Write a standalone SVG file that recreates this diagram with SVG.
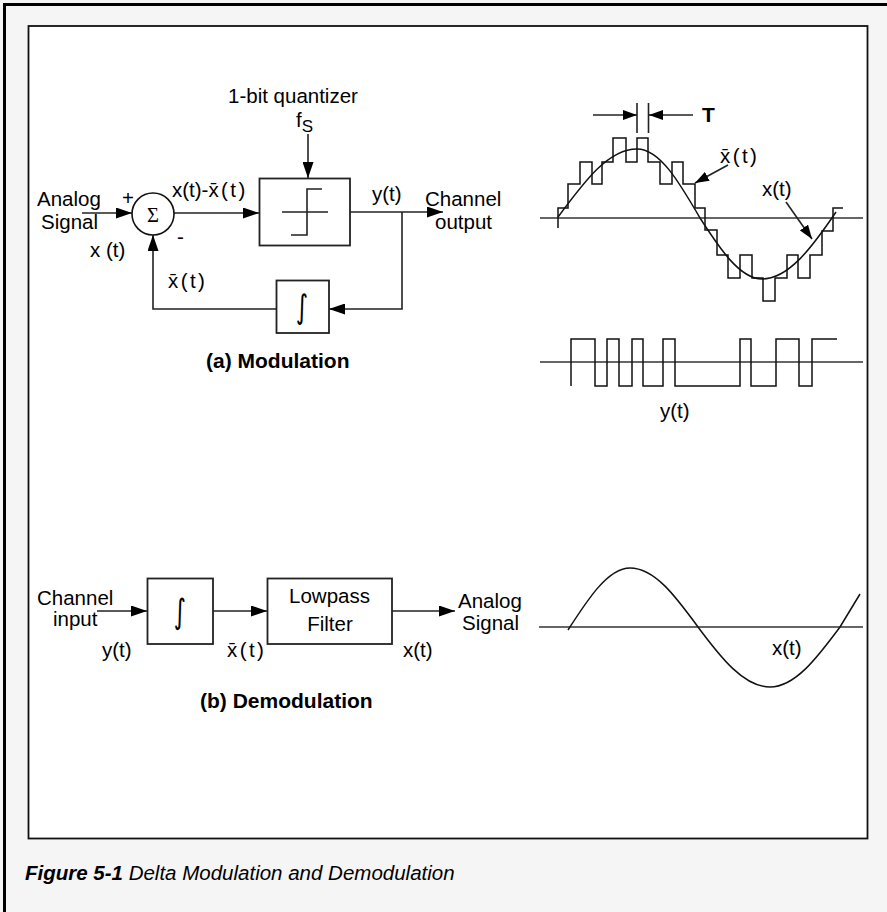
<svg xmlns="http://www.w3.org/2000/svg" width="887" height="912" viewBox="0 0 887 912">
<style>
text{font-family:"Liberation Sans",Arial,Helvetica,sans-serif;font-size:20.5px;fill:#000}
.b{font-weight:bold;font-size:21px}
.sp{letter-spacing:2.4px}
.ln{fill:none;stroke:#222;stroke-width:1.6}
.box{fill:#fff;stroke:#222;stroke-width:1.8}
.wave{fill:none;stroke:#111;stroke-width:1.5}
.axis{fill:none;stroke:#333;stroke-width:1.4}
.sym{font-family:"Liberation Serif","Times New Roman",serif}
.int{font-family:"DejaVu Sans",sans-serif}
</style>
<defs>
<marker id="ah" markerUnits="userSpaceOnUse" markerWidth="17" markerHeight="11" refX="16" refY="5.5" orient="auto">
<path d="M0,0 L16,5.5 L0,11 Z" fill="#000"/>
</marker>
<marker id="ahs" markerUnits="userSpaceOnUse" markerWidth="15" markerHeight="10" refX="14" refY="5" orient="auto">
<path d="M0,0 L14,5 L0,10 Z" fill="#000"/>
</marker>
</defs>

<rect x="0" y="0" width="887" height="912" fill="#f5f5f5"/>
<path d="M4.5,912 V4.5 H887" fill="none" stroke="#000" stroke-width="3"/>
<rect x="28.5" y="26" width="839" height="812.5" fill="#fff" stroke="#111" stroke-width="1.8"/>

<g id="connectors">
<line class="ln" x1="82" y1="213" x2="132" y2="213" marker-end="url(#ah)"/>
<line class="ln" x1="174" y1="213" x2="259" y2="213" marker-end="url(#ah)"/>
<line class="ln" x1="308" y1="134" x2="308" y2="178" marker-end="url(#ah)"/>
<line class="ln" x1="350" y1="212" x2="443" y2="212" marker-end="url(#ah)"/>
<polyline class="ln" points="402,212 402,309 329,309" marker-end="url(#ah)"/>
<polyline class="ln" points="276,309 153,309 153,235" marker-end="url(#ah)"/>
<line class="ln" x1="97" y1="611" x2="147" y2="611" marker-end="url(#ah)"/>
<line class="ln" x1="213" y1="611" x2="267" y2="611" marker-end="url(#ah)"/>
<line class="ln" x1="392" y1="611" x2="455" y2="611" marker-end="url(#ah)"/>
</g>

<g id="sum">
<circle cx="153" cy="214" r="21" fill="#fff" stroke="#111" stroke-width="1.6"/>
<text class="sym" x="153" y="222" text-anchor="middle" font-size="24">Σ</text>
</g>

<g id="quantizer">
<rect class="box" x="259.5" y="178.5" width="90.5" height="67"/>
<path class="ln" d="M282,212 H328 M291,235 H307 V189 H322"/>
</g>

<g id="integrator-a">
<rect class="box" x="276.5" y="280.5" width="52.5" height="52.5"/>
<text class="int" transform="translate(302,307) scale(1.15,1.6)" x="0" y="7" text-anchor="middle" font-size="30">∫</text>
</g>

<g id="integrator-b">
<rect class="box" x="147.5" y="578.5" width="65.5" height="65.5"/>
<text class="int" transform="translate(180,611) scale(1.15,1.65)" x="0" y="7.5" text-anchor="middle" font-size="32">∫</text>
</g>

<g id="lowpass">
<rect class="box" x="267.5" y="578.5" width="124.5" height="65.5"/>
<text x="329.5" y="603" text-anchor="middle">Lowpass</text>
<text x="330" y="631" text-anchor="middle">Filter</text>
</g>

<g id="labels-a">
<text x="228" y="103">1-bit quantizer</text>
<text x="296" y="127">f<tspan font-size="17" dy="5">S</tspan></text>
<text x="37" y="206">Analog</text>
<text x="41" y="229">Signal</text>
<text x="122" y="205">+</text>
<text x="177" y="244">-</text>
<text x="90" y="257">x (t)</text>
<text x="172" y="197">x(t)-<tspan class="sp">x̄(t)</tspan></text>
<text class="sp" x="168" y="288">x̄(t)</text>
<text x="372" y="201">y(t)</text>
<text x="425" y="206">Channel</text>
<text x="435" y="229">output</text>
<text class="b" x="206" y="368">(a) Modulation</text>
</g>

<g id="waveform-a">
<line class="axis" x1="540" y1="218" x2="863" y2="218"/>
<path class="wave" d="M558,228 V208 H568 V184 H580 V162 H592 V184 H602 V162 H613 V138 H626 V162 H637 V138 H648 V162 H660 V184 H672 V162 H683 V184 H695 V208 H705 V230 H717 V255 H728 V278 H740 V255 H752 V278 H763 V301 H775 V278 H787 V255 H798 V278 H810 V255 H822 V231 H833 V208 H843"/>
<path class="wave" d="M558,217 C584,182 608,149 637,149 C660,149 679.5,182.7 700,218 C720,249 740,279 762,279 C788,279 811,249 836,212"/>
<line class="ln" x1="637" y1="103" x2="637" y2="133"/>
<line class="ln" x1="648.5" y1="103" x2="648.5" y2="133"/>
<line class="ln" x1="593" y1="115" x2="637" y2="115" marker-end="url(#ahs)"/>
<line class="ln" x1="693" y1="115" x2="649" y2="115" marker-end="url(#ahs)"/>
<text class="b" x="702" y="122">T</text>
<text class="sp" x="720" y="163">x̄(t)</text>
<line class="ln" x1="728" y1="165" x2="695" y2="183" marker-end="url(#ahs)"/>
<text x="762" y="196">x(t)</text>
<line class="ln" x1="786" y1="202" x2="812" y2="239" marker-end="url(#ahs)"/>
</g>

<g id="waveform-y">
<line class="axis" x1="540" y1="362" x2="863" y2="362"/>
<path class="wave" d="M571,386 V339 H595 V386 H607 V339 H619 V386 H632 V339 H643 V386 H663 V339 H675 V386 H740 V339 H751 V386 H776 V339 H799 V386 H812 V339 H837"/>
<text x="660" y="418">y(t)</text>
</g>

<g id="labels-b">
<text x="37" y="605">Channel</text>
<text x="53" y="626">input</text>
<text x="102" y="657">y(t)</text>
<text class="sp" x="227" y="657">x̄(t)</text>
<text x="403" y="657">x(t)</text>
<text x="458" y="608">Analog</text>
<text x="462" y="630">Signal</text>
<text class="b" x="200" y="708">(b) Demodulation</text>
</g>

<g id="waveform-b">
<line class="axis" x1="539" y1="627" x2="863" y2="627"/>
<path class="wave" d="M568,630 C588,599 608,568 630,568 C655,568 676,597 698,627 C721,658 744,687 770,687 C795,687 817,658 840,627 L860,594"/>
<text x="772" y="655">x(t)</text>
</g>

<g id="caption">
<text x="25" y="880" font-size="22.8" font-style="italic"><tspan font-weight="bold">Figure 5-1</tspan> Delta Modulation and Demodulation</text>
</g>
</svg>
